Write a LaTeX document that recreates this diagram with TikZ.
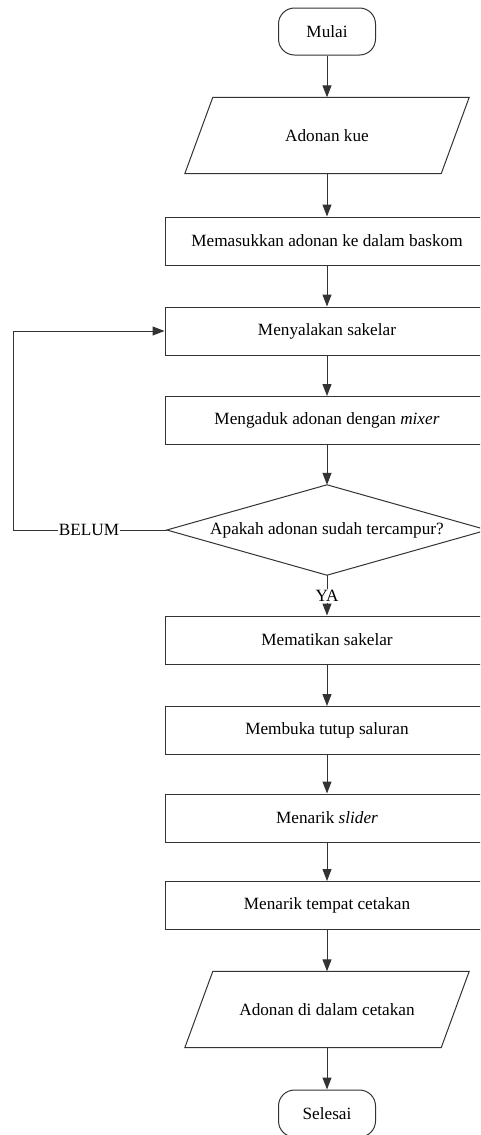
\documentclass[tikz,border=0pt]{standalone}
\usepackage{fontspec}
\setmainfont{Liberation Serif}
\usetikzlibrary{arrows.meta,calc}
\tikzset{
  ln/.style={draw=black!80, line width=1pt},
  arr/.style={ln, -{Triangle[length=12pt,width=9pt]}},
  procbox/.style={ln, rectangle, minimum width=324pt, minimum height=48pt, inner sep=0pt, font=\fontsize{17.2}{20}\selectfont},
  term/.style={ln, rectangle, rounded corners=16pt, minimum width=97pt, minimum height=47pt, inner sep=0pt, font=\fontsize{17.2}{20}\selectfont},
  iobox/.style={rectangle, minimum width=256pt, minimum height=76pt, inner sep=0pt, font=\fontsize{17.2}{20}\selectfont},
  txt/.style={inner sep=1pt, fill=white, font=\fontsize{17.2}{20}\selectfont},
}
\begin{document}
\begin{tikzpicture}[x=1pt,y=-1pt]
\useasboundingbox (0,0) rectangle (480,1135);
\clip (0,0) rectangle (480,1135);
\fill[white] (0,0) rectangle (480,1135);

\node[term] (start) at (327,31.5) {Mulai};
\node[iobox] (in) at (327,135.5) {Adonan kue};
\draw[ln] ($(in.north west)+(14,0)$) -- ($(in.north east)+(14,0)$) -- ($(in.south east)+(-14,0)$) -- ($(in.south west)+(-14,0)$) -- cycle;
\node[procbox] (b1) at (327,241) {Memasukkan adonan ke dalam baskom};
\node[procbox] (b2) at (327,331) {Menyalakan sakelar};
\node[procbox] (b3) at (327,420.5) {Mengaduk adonan dengan \textit{mixer}};
\node[font=\fontsize{17.2}{20}\selectfont, minimum width=320pt, minimum height=90pt, inner sep=0pt] (dec) at (327,530) {Apakah adonan sudah tercampur?};
\draw[ln] (dec.north) -- (dec.east) -- (dec.south) -- (dec.west) -- cycle;
\node[procbox] (b4) at (327,640) {Mematikan sakelar};
\node[procbox] (b5) at (327,730.5) {Membuka tutup saluran};
\node[procbox] (b6) at (327,818) {Menarik \textit{slider}};
\node[procbox] (b7) at (327,905.5) {Menarik tempat cetakan};
\node[iobox] (out) at (327,1009.5) {Adonan di dalam cetakan};
\draw[ln] ($(out.north west)+(14,0)$) -- ($(out.north east)+(14,0)$) -- ($(out.south east)+(-14,0)$) -- ($(out.south west)+(-14,0)$) -- cycle;
\node[term] (end) at (327,1113.5) {Selesai};

\draw[arr] (start) -- (in);
\draw[arr] (in) -- (b1);
\draw[arr] (b1) -- (b2);
\draw[arr] (b2) -- (b3);
\draw[arr] (b3) -- (dec.north);
\coordinate (c1) at (13,530);
\coordinate (c2) at (13,331);
\draw[arr] (dec.west) -- (c1) -- (c2) -- (b2.west);
\node[txt] (belum) at (89,530) {BELUM};
\draw[arr] (dec.south) -- (b4);
\node[txt] (ya) at (327,596) {YA};
\draw[arr] (b4) -- (b5);
\draw[arr] (b5) -- (b6);
\draw[arr] (b6) -- (b7);
\draw[arr] (b7) -- (out);
\draw[arr] (out) -- (end);
\end{tikzpicture}
\end{document}
